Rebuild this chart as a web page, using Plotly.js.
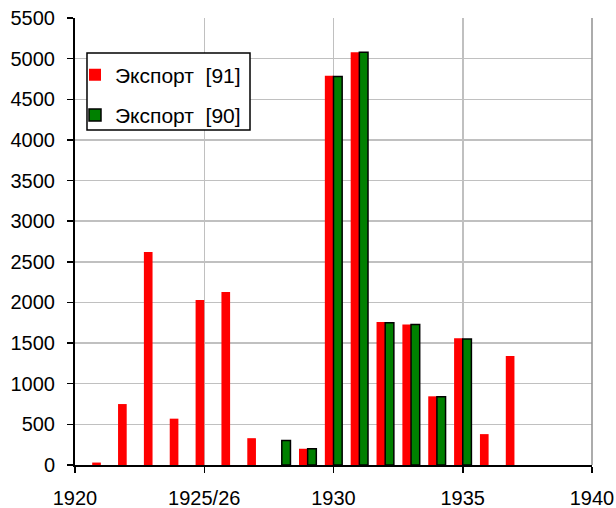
<!DOCTYPE html>
<html>
<head>
<meta charset="utf-8">
<script src="https://cdn.plot.ly/plotly-3.0.1.min.js"></script>
<style>html,body{margin:0;padding:0;background:#fff;}#chart{width:616px;height:508px;}</style>
</head>
<body>
<div id="chart"></div>
<script>
const years = [1921, 1922, 1923, 1924, 1925, 1926, 1927, 1928, 1929, 1930, 1931, 1932, 1933, 1934, 1935, 1936, 1937];
const export91 = [30, 750, 2620, 570, 2030, 2130, 330, null, 200, 4790, 5080, 1760, 1730, 845, 1560, 380, 1340];
const export90 = [null, null, null, null, null, null, null, 300, 200, 4780, 5080, 1750, 1730, 840, 1550, null, null];
const name91 = 'Экспорт  [91]';
const name90 = 'Экспорт  [90]';
const xTickVals = [1920, 1925, 1930, 1935, 1940];
const xTickText = ['1920', '1925/26', '1930', '1935', '1940'];

const font = {family: '"Liberation Sans", Arial, sans-serif', size: 20, color: '#000'};
const legendFont = {family: '"Liberation Sans", Arial, sans-serif', size: 21, color: '#000'};

const traces = [
  {type: 'bar', x: years, y: export91, name: name91, legendgroup: 'a',
   marker: {color: '#ff0000', line: {width: 0}}},
  {type: 'bar', x: years, y: export90, name: name90, legendgroup: 'b',
   marker: {color: '#008000', line: {color: '#000', width: 1.5}}}
];

const layout = {
  width: 616, height: 508,
  margin: {l: 75, r: 24, t: 18, b: 43},
  paper_bgcolor: '#fff', plot_bgcolor: '#fff',
  font: font,
  barmode: 'group', bargap: 0.33, bargroupgap: 0,
  showlegend: true,
  legend: {x: 0.0, y: 0.918, xanchor: 'left', yanchor: 'top',
           borderwidth: 0, bgcolor: 'rgba(0,0,0,0)',
           font: legendFont, traceorder: 'grouped', tracegroupgap: 10},
  xaxis: {range: [1920, 1940], tickmode: 'array', tickvals: xTickVals, ticktext: xTickText,
          showgrid: true, gridcolor: '#c0c0c0', gridwidth: 1.5,
          showline: true, linecolor: '#000', linewidth: 2,
          ticks: 'outside', ticklen: 6, tickwidth: 1.5, tickcolor: '#000',
          ticklabelstandoff: 8, zeroline: false, fixedrange: true},
  yaxis: {range: [0, 5500], dtick: 500, tick0: 0,
          showgrid: true, gridcolor: '#c0c0c0', gridwidth: 1.5,
          showline: true, linecolor: '#000', linewidth: 2,
          ticks: 'outside', ticklen: 6, tickwidth: 1.5, tickcolor: '#000',
          ticklabelstandoff: 8, zeroline: false, fixedrange: true},
  shapes: [
    {type: 'line', xref: 'paper', yref: 'paper', x0: 1, x1: 1, y0: 0, y1: 1,
     line: {color: '#909090', width: 1.5}},
    {type: 'rect', xref: 'paper', yref: 'paper', x0: 0.0232, x1: 0.3385, y0: 0.7494, y1: 0.9217,
     fillcolor: '#fff', line: {color: '#000', width: 1.5}, layer: 'above'}
  ]
};

Plotly.newPlot('chart', traces, layout, {displayModeBar: false, staticPlot: true});
</script>
</body>
</html>
